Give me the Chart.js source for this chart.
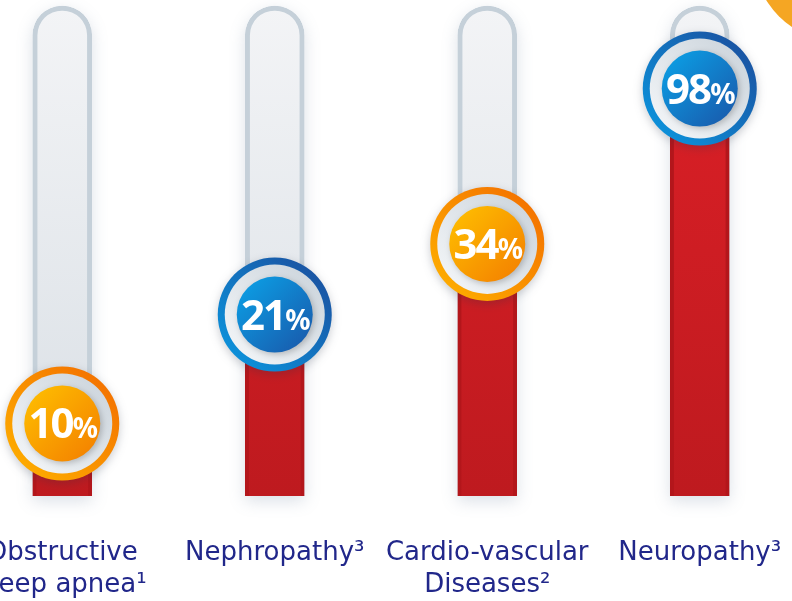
<!DOCTYPE html>
<html>
<head>
<meta charset="utf-8">
<script src="https://cdn.jsdelivr.net/npm/chart.js@4.4.0/dist/chart.umd.min.js"></script>
<style>
  html, body { margin: 0; padding: 0; background: #fff; overflow: hidden; }
  #wrap { position: absolute; left: -44px; top: 0; width: 850px; height: 601px; }
</style>
</head>
<body>
<div id="wrap"><canvas id="riskChart"></canvas></div>
<script>
// data
const categories = [
  ['Obstructive', 'sleep apnea¹'],
  ['Nephropathy³'],
  ['Cardio-vascular', 'Diseases²'],
  ['Neuropathy³']
];
const prevalence = [10, 21, 34, 98];
// the tubes are drawn on a log axis, which is how the picture spaces the levels
const scaleMin = 6.1;
const scaleMax = 172;
const tubeLevels = [scaleMax, scaleMax, scaleMax, scaleMax];
const badgeThemes = ['orange', 'blue', 'orange', 'blue'];

const palette = {
  orange: { ring: ['#ffb400', '#f26a00'], core: ['#ffc200', '#f37c00'] },
  blue: { ring: ['#0a9be3', '#1c4a9a'], core: ['#0aa4e9', '#1a55a8'] }
};

function tubeFill(context) {
  const area = context.chart.chartArea;
  if (!area) return '#eceff2';
  const g = context.chart.ctx.createLinearGradient(0, area.top, 0, area.bottom);
  g.addColorStop(0, '#f3f4f6');
  g.addColorStop(1, '#d9dfe5');
  return g;
}

function redFill(context) {
  const area = context.chart.chartArea;
  if (!area) return '#c31b21';
  const g = context.chart.ctx.createLinearGradient(0, area.top, 0, area.bottom);
  g.addColorStop(0, '#de2027');
  g.addColorStop(1, '#be1a1f');
  return g;
}

// soft shadow behind the tubes
const tubeShadow = {
  id: 'tubeShadow',
  beforeDatasetsDraw(chart) {
    const c = chart.ctx;
    c.save();
    c.shadowColor = 'rgba(110,130,160,0.25)';
    c.shadowBlur = 16;
    c.shadowOffsetY = 5;
    c.fillStyle = '#fff';
    chart.getDatasetMeta(1).data.forEach(bar => {
      const w = bar.width;
      c.beginPath();
      c.roundRect(bar.x - w / 2, bar.y, w, bar.base - bar.y, [w / 2, w / 2, 0, 0]);
      c.fill();
    });
    c.restore();
  }
};

// round percentage badges on top of each red level
const badges = {
  id: 'badges',
  afterDatasetsDraw(chart) {
    const c = chart.ctx;
    chart.getDatasetMeta(0).data.forEach((bar, i) => {
      const x = bar.x, y = bar.y;
      const p = palette[badgeThemes[i]];
      let g;

      c.save();
      c.shadowColor = 'rgba(40,50,70,0.25)';
      c.shadowBlur = 10;
      c.shadowOffsetY = 3;
      g = c.createLinearGradient(x - 57, y + 57, x + 57, y - 57);
      g.addColorStop(0, p.ring[0]);
      g.addColorStop(1, p.ring[1]);
      c.fillStyle = g;
      c.beginPath();
      c.arc(x, y, 57, 0, Math.PI * 2);
      c.fill();
      c.restore();

      g = c.createLinearGradient(x - 50, y + 50, x + 50, y - 50);
      g.addColorStop(0, '#f6f8fa');
      g.addColorStop(1, '#c9d2da');
      c.fillStyle = g;
      c.beginPath();
      c.arc(x, y, 50, 0, Math.PI * 2);
      c.fill();

      c.save();
      c.shadowColor = 'rgba(0,0,0,0.22)';
      c.shadowBlur = 6;
      c.shadowOffsetX = 2;
      c.shadowOffsetY = 2;
      g = c.createLinearGradient(x - 38, y - 38, x + 38, y + 38);
      g.addColorStop(0, p.core[0]);
      g.addColorStop(1, p.core[1]);
      c.fillStyle = g;
      c.beginPath();
      c.arc(x, y, 38, 0, Math.PI * 2);
      c.fill();
      c.restore();

      const num = String(prevalence[i]);
      c.save();
      c.fillStyle = '#fff';
      c.textBaseline = 'alphabetic';
      c.textAlign = 'left';
      c.letterSpacing = '-2px';
      c.font = 'bold 42px "Noto Sans"';
      const nw = c.measureText(num).width;
      c.font = 'bold 28px "Noto Sans"';
      const pw = c.measureText('%').width;
      const left = x - (nw + pw) / 2;
      c.font = 'bold 42px "Noto Sans"';
      c.fillText(num, left, y + 15);
      c.font = 'bold 28px "Noto Sans"';
      c.fillText('%', left + nw, y + 15);
      c.restore();
    });
  }
};

// orange corner at the top right
const corner = {
  id: 'corner',
  afterDraw(chart) {
    const c = chart.ctx;
    c.save();
    c.fillStyle = '#f5a623';
    c.beginPath();
    c.arc(884, -45, 86.5, 0, Math.PI * 2);
    c.fill();
    c.restore();
  }
};

new Chart(document.getElementById('riskChart'), {
  type: 'bar',
  data: {
    labels: categories,
    datasets: [
      {
        label: 'Prevalence',
        data: prevalence,
        backgroundColor: redFill,
        borderColor: '#b3161b',
        borderWidth: { left: 4, right: 4, top: 0, bottom: 0 },
        borderSkipped: false
      },
      {
        label: 'Scale',
        data: tubeLevels,
        backgroundColor: tubeFill,
        borderColor: '#c5d0d9',
        borderWidth: 5,
        borderRadius: { topLeft: 30, topRight: 30, bottomLeft: 0, bottomRight: 0 },
        borderSkipped: 'bottom'
      }
    ]
  },
  options: {
    responsive: true,
    maintainAspectRatio: false,
    animation: false,
    layout: { padding: { top: 6, bottom: 0, left: 0, right: 0 } },
    datasets: { bar: { grouped: false, barThickness: 59, clip: false } },
    plugins: {
      legend: { display: false },
      tooltip: { enabled: false }
    },
    scales: {
      x: {
        grid: { display: false, drawTicks: false },
        border: { display: false },
        ticks: {
          color: '#21278a',
          font: { family: '"DejaVu Sans"', size: 26, lineHeight: 1.23 },
          padding: 41,
          maxRotation: 0,
          autoSkip: false
        },
        afterFit(scale) {
          scale.height = 105;
          scale.paddingLeft = 0;
          scale.paddingRight = 0;
        }
      },
      y: {
        type: 'logarithmic',
        min: scaleMin,
        max: scaleMax,
        display: false
      }
    }
  },
  plugins: [tubeShadow, badges, corner]
});
</script>
</body>
</html>
